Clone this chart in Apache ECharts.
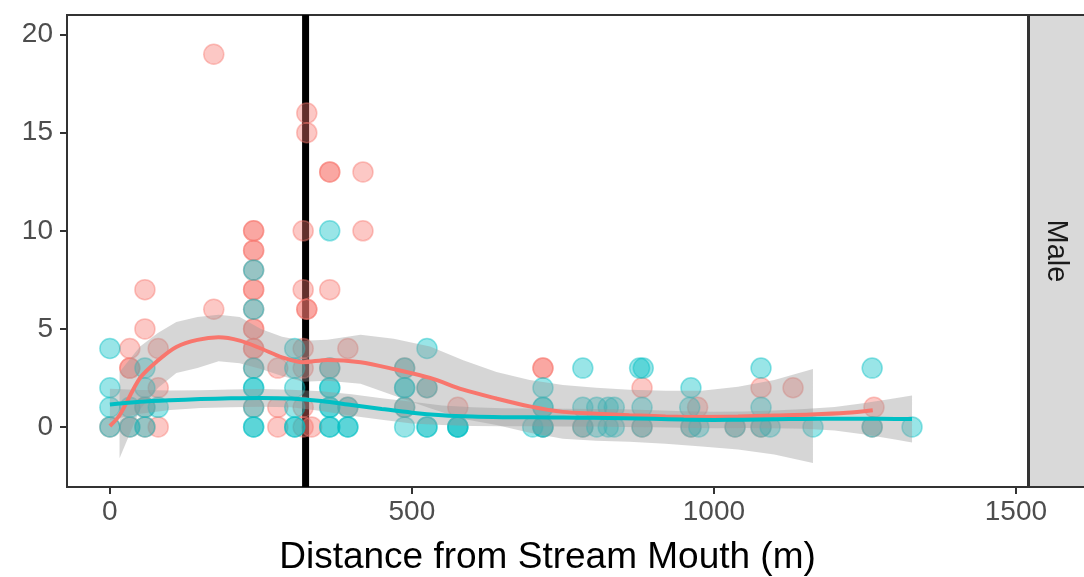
<!DOCTYPE html>
<html>
<head>
<meta charset="utf-8">
<script src="https://cdn.jsdelivr.net/npm/echarts@6/dist/echarts.min.js"></script>
<style>
  html, body { margin: 0; padding: 0; background: #fff; }
  #chart { width: 1084px; height: 577px; }
</style>
</head>
<body>
<div id="chart"></div>
<script>
// Observed counts per sampling point: [distance (m), count]
const groupA = [
  [0,0],
  [33,4],[33,3],[33,3],[33,0],
  [58,7],[58,5],[58,1],[58,0],
  [80,4],[80,2],[80,0],
  [172,19],[172,6],
  [238,10],[238,10],[238,9],[238,9],[238,8],[238,7],[238,7],[238,6],[238,5],[238,5],[238,4],[238,4],[238,3],[238,1],
  [278,3],[278,1],[278,0],
  [320,10],[320,7],[320,4],[320,3],[320,1],[320,0],
  [326,16],[326,15],[326,6],[326,6],[334,0],
  [364,13],[364,13],[364,7],[364,3],
  [394,4],[394,1],
  [419,13],[419,10],
  [488,3],[488,1],
  [525,2],
  [576,1],
  [717,3],[717,3],[717,0],
  [783,0],
  [881,2],[881,0],
  [973,1],[962,0],
  [1035,0],
  [1078,2],[1078,0],
  [1131,2],
  [1265,1],[1262,0]
];

const groupB = [
  [0,4],[0,2],[0,1],[0,0],
  [33,1],[33,0],
  [58,3],[58,2],[58,1],[58,0],
  [80,1],
  [238,8],[238,6],[238,3],[238,2],[238,2],[238,1],[238,0],[238,0],
  [306,4],[306,3],[306,2],[306,1],[306,0],[306,0],
  [364,10],[364,3],[364,2],[364,2],[364,1],[364,1],[364,0],[364,0],
  [394,1],[394,0],[394,0],
  [488,3],[488,2],[488,2],[488,1],[488,0],
  [525,4],[525,2],[525,0],[525,0],
  [576,0],[576,0],[576,0],
  [700,0],
  [717,2],[717,1],[717,1],[717,0],[717,0],
  [783,3],[783,1],[783,0],
  [806,1],[806,0],
  [825,1],[825,0],
  [835,1],[835,0],
  [877,3],[883,3],[881,1],[881,0],
  [962,2],[960,1],[962,0],[975,0],
  [1035,0],
  [1078,3],[1078,1],[1078,0],[1093,0],
  [1164,0],
  [1262,3],[1262,0],
  [1328,0]
];

// Loess fit, group A
const fitAX = [0, 16, 50, 80, 110, 145, 180, 215, 250, 285, 320, 360, 415, 470, 530, 585, 640, 695, 750, 805, 860, 920, 980, 1040, 1100, 1160, 1220, 1263];
const fitAY = [0.05, 0.6, 2.5, 3.4, 4.08, 4.44, 4.57, 4.4, 4.0, 3.55, 3.3, 3.42, 3.3, 2.95, 2.5, 1.9, 1.45, 1.05, 0.77, 0.68, 0.6, 0.54, 0.51, 0.53, 0.58, 0.63, 0.72, 0.85];
// Confidence band, group A
const bandAX = [16, 50, 80, 110, 145, 180, 215, 250, 285, 320, 360, 415, 470, 530, 585, 640, 695, 750, 805, 860, 920, 980, 1040, 1100, 1164];
const bandAHi = [2.8, 4.1, 4.8, 5.35, 5.6, 5.72, 5.6, 5.0, 4.6, 4.4, 4.45, 4.7, 4.5, 4.1, 3.4, 2.8, 2.4, 2.14, 2.0, 1.9, 1.85, 1.85, 2.05, 2.4, 2.96];
const bandALo = [-1.6, 0.9, 2.0, 2.75, 3.0, 3.35, 3.25, 2.95, 2.6, 2.3, 2.35, 2.2, 1.6, 0.95, 0.4, 0.1, -0.3, -0.6, -0.7, -0.75, -0.85, -1.0, -1.15, -1.4, -1.84];

// Loess fit and confidence band, group B
const fitBX = [0, 50, 100, 150, 200, 250, 300, 350, 400, 450, 500, 550, 600, 650, 700, 750, 800, 850, 900, 950, 1000, 1050, 1100, 1150, 1200, 1250, 1300, 1328];
const fitBY = [1.15, 1.28, 1.36, 1.42, 1.46, 1.48, 1.45, 1.32, 1.12, 0.92, 0.73, 0.6, 0.53, 0.5, 0.49, 0.48, 0.47, 0.45, 0.42, 0.38, 0.36, 0.37, 0.39, 0.41, 0.42, 0.42, 0.41, 0.41];
const bandBHi = [1.95, 1.88, 1.86, 1.87, 1.91, 1.93, 1.9, 1.82, 1.67, 1.47, 1.28, 1.1, 1.01, 0.96, 0.94, 0.93, 0.92, 0.9, 0.85, 0.8, 0.78, 0.79, 0.84, 0.91, 1.02, 1.22, 1.46, 1.61];
const bandBLo = [0.35, 0.68, 0.86, 0.97, 1.01, 1.03, 1.0, 0.82, 0.57, 0.37, 0.18, 0.1, 0.05, 0.04, 0.04, 0.03, 0.02, 0.0, -0.01, -0.04, -0.06, -0.05, -0.06, -0.09, -0.18, -0.38, -0.64, -0.79];

// Reference distance marker
const markerX = 324;

// Axis ranges and tick labels
const xRange = [-71, 1520];
const yRange = [-3.06, 21.0];
const xTicks = [0, 500, 1000, 1500];
const yTicks = [0, 5, 10, 15, 20];
const facetLabel = 'Male';
const xTitle = 'Distance from Stream Mouth (m)';

const RED = '#F8766D';
const TEAL = '#00BFC4';
const FONT = '"Liberation Sans", Arial, Helvetica, sans-serif';

function zip(xs, ys) { return xs.map((x, i) => [x, ys[i]]); }

function bandSeries(xs, hi, lo) {
  return {
    type: 'custom',
    z: 3,
    silent: true,
    clip: true,
    data: [0],
    renderItem: function (params, api) {
      const top = xs.map((x, i) => api.coord([x, hi[i]]));
      const bottom = xs.map((x, i) => api.coord([x, lo[i]])).reverse();
      return {
        type: 'polygon',
        shape: { points: top.concat(bottom) },
        style: { fill: 'rgba(153,153,153,0.4)' }
      };
    }
  };
}

const chart = echarts.init(document.getElementById('chart'), null, { renderer: 'canvas' });

chart.setOption({
  animation: false,
  backgroundColor: '#fff',
  textStyle: { fontFamily: FONT },
  grid: {
    left: 67, right: 56, top: 15, bottom: 90,
    containLabel: false,
    outerBoundsMode: 'none',
    show: true, borderColor: '#333333', borderWidth: 2, backgroundColor: '#fff'
  },
  xAxis: {
    type: 'value',
    min: xRange[0], max: xRange[1],
    splitLine: { show: false },
    axisLine: { show: false, onZero: false },
    axisTick: { show: true, customValues: xTicks, length: 7, lineStyle: { color: '#333333', width: 2 } },
    axisLabel: {
      customValues: xTicks, color: '#4D4D4D', fontSize: 28, margin: 11, fontFamily: FONT,
      formatter: v => String(v)
    },
    name: xTitle,
    nameLocation: 'middle',
    nameGap: 52,
    nameTextStyle: { color: '#000', fontSize: 37, fontFamily: FONT }
  },
  yAxis: {
    type: 'value',
    min: yRange[0], max: yRange[1],
    splitLine: { show: false },
    axisLine: { show: false, onZero: false },
    axisTick: { show: true, customValues: yTicks, length: 7, lineStyle: { color: '#333333', width: 2 } },
    axisLabel: {
      customValues: yTicks, color: '#4D4D4D', fontSize: 28, margin: 14, fontFamily: FONT,
      formatter: v => String(v)
    }
  },
  graphic: [
    {
      type: 'rect',
      shape: { x: 1029, y: 15, width: 70, height: 472 },
      style: { fill: '#D9D9D9', stroke: '#333333', lineWidth: 2 },
      z: 10
    },
    {
      type: 'text',
      x: 1056, y: 251,
      rotation: -Math.PI / 2,
      style: {
        text: facetLabel, fill: '#1A1A1A', fontSize: 29, fontFamily: FONT,
        align: 'center', verticalAlign: 'middle'
      },
      z: 11
    }
  ],
  series: [
    {
      type: 'line',
      z: 1,
      silent: true,
      symbol: 'none',
      data: [[markerX, yRange[0]], [markerX, yRange[1]]],
      lineStyle: { color: '#000', width: 7 }
    },
    {
      type: 'scatter',
      z: 2,
      symbolSize: 20,
      data: groupA,
      itemStyle: { color: 'rgba(248,118,109,0.5)', borderColor: 'rgba(248,118,109,0.55)', borderWidth: 1.5 }
    },
    {
      type: 'scatter',
      z: 2,
      symbolSize: 20,
      data: groupB,
      itemStyle: { color: 'rgba(0,191,196,0.5)', borderColor: 'rgba(0,191,196,0.55)', borderWidth: 1.5 }
    },
    bandSeries(bandAX, bandAHi, bandALo),
    bandSeries(fitBX, bandBHi, bandBLo),
    {
      type: 'line',
      z: 4,
      silent: true,
      symbol: 'none',
      smooth: 0.3,
      data: zip(fitAX, fitAY),
      lineStyle: { color: RED, width: 4 }
    },
    {
      type: 'line',
      z: 4,
      silent: true,
      symbol: 'none',
      smooth: 0.3,
      data: zip(fitBX, fitBY),
      lineStyle: { color: TEAL, width: 4 }
    }
  ]
});
</script>
</body>
</html>
